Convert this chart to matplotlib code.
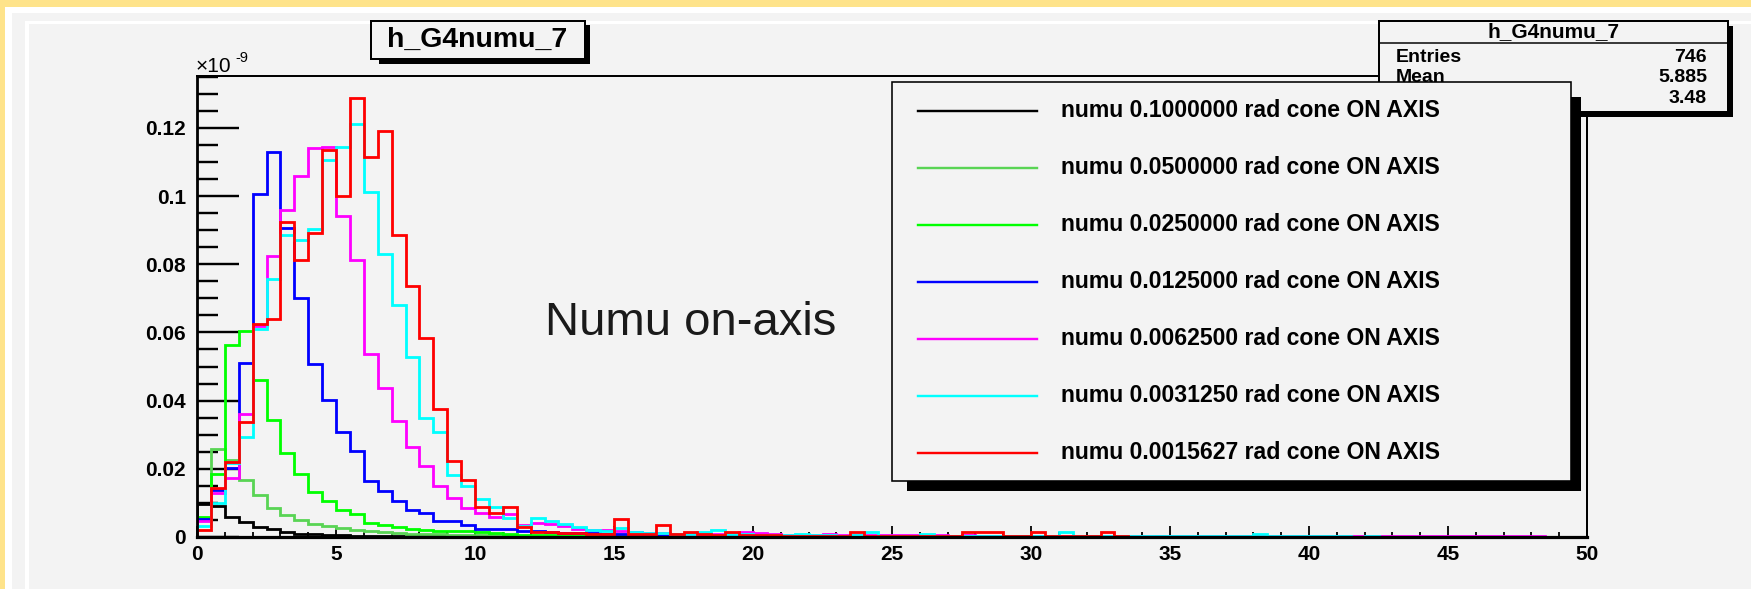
import numpy as np
import matplotlib
matplotlib.use("Agg")
import matplotlib.pyplot as plt
from matplotlib.patches import Rectangle
from matplotlib.lines import Line2D

# ---------------------------------------------------------------- data
# neutrino energy binning: 100 bins of 0.5 from 0 to 50
bin_edges = np.arange(0, 50.5, 0.5)

# flux per bin, in units of 1e-9
flux_cone_0100000 = [
    0.0096, 0.0090, 0.0059, 0.0044, 0.0030, 0.0022, 0.0014, 0.0010, 0.0008, 0.0006,
    0.0005, 0.0004, 0.0004, 0.0003, 0.0003, 0.0002, 0.0002, 0.0002, 0.0001, 0.0001,
    0.0001, 0.0001, 0.0001, 0.0001, 0.0001, 0, 0, 0, 0, 0,
    0, 0, 0, 0, 0, 0, 0, 0, 0, 0,
    0, 0, 0, 0, 0, 0, 0, 0, 0, 0,
    0, 0, 0, 0, 0, 0, 0, 0, 0, 0,
    0, 0, 0, 0, 0, 0, 0, 0, 0, 0,
    0, 0, 0, 0, 0, 0, 0, 0, 0, 0,
    0, 0, 0, 0, 0, 0, 0, 0, 0, 0,
    0, 0, 0, 0, 0, 0, 0, 0, 0, 0,
]
flux_cone_0050000 = [
    0.0055, 0.0259, 0.0226, 0.0166, 0.0124, 0.0086, 0.0064, 0.0049, 0.0037, 0.0031,
    0.0025, 0.0020, 0.0018, 0.0014, 0.0012, 0.0010, 0.0009, 0.0008, 0.0007, 0.0006,
    0.0006, 0.0005, 0.0005, 0.0004, 0.0004, 0.0003, 0.0003, 0.0003, 0.0002, 0.0002,
    0.0002, 0.0002, 0.0001, 0.0001, 0.0001, 0.0001, 0.0001, 0.0001, 0.0001, 0.0001,
    0, 0, 0, 0, 0, 0, 0, 0, 0, 0,
    0, 0, 0, 0, 0, 0, 0, 0, 0, 0,
    0, 0, 0, 0, 0, 0, 0, 0, 0, 0,
    0, 0, 0, 0, 0, 0, 0, 0, 0, 0,
    0, 0, 0, 0, 0, 0, 0, 0, 0, 0,
    0, 0, 0, 0, 0, 0, 0, 0, 0, 0,
]
flux_cone_0025000 = [
    0.0059, 0.0184, 0.0562, 0.0604, 0.0461, 0.0342, 0.0246, 0.0186, 0.0132, 0.0106,
    0.0080, 0.0068, 0.0041, 0.0034, 0.0029, 0.0024, 0.0020, 0.0018, 0.0018, 0.0017,
    0.0016, 0.0011, 0.0010, 0.0006, 0.0005, 0.0005, 0.0005, 0.0004, 0.0004, 0.0004,
    0.0003, 0.0003, 0.0003, 0.0003, 0.0002, 0.0002, 0.0002, 0.0002, 0.0002, 0.0002,
    0.0001, 0.0001, 0.0001, 0.0001, 0.0001, 0.0001, 0.0001, 0.0001, 0.0001, 0.0001,
    0, 0, 0, 0, 0, 0, 0, 0, 0, 0,
    0, 0, 0, 0, 0, 0, 0, 0, 0, 0,
    0, 0, 0, 0, 0, 0, 0, 0, 0, 0,
    0, 0, 0, 0, 0, 0, 0, 0, 0, 0,
    0, 0, 0, 0, 0, 0, 0, 0, 0, 0,
]
flux_cone_0012500 = [
    0.0054, 0.0137, 0.0201, 0.0511, 0.1006, 0.1128, 0.0905, 0.0700, 0.0506, 0.0401,
    0.0308, 0.0251, 0.0163, 0.0134, 0.0105, 0.0080, 0.0069, 0.0046, 0.0046, 0.0034,
    0.0024, 0.0024, 0.0024, 0.0017, 0.0017, 0.0016, 0.0013, 0.0012, 0.0012, 0.0010,
    0.0009, 0.0009, 0.0008, 0.0007, 0.0006, 0.0006, 0.0006, 0.0005, 0.0005, 0.0004,
    0.0004, 0.0004, 0.0003, 0.0004, 0.0003, 0.0003, 0.0003, 0.0003, 0.0003, 0.0002,
    0.0003, 0.0002, 0.0002, 0.0002, 0.0002, 0.0002, 0.0003, 0.0002, 0.0002, 0.0002,
    0.0002, 0.0002, 0.0002, 0.0001, 0.0002, 0.0001, 0.0002, 0.0001, 0.0001, 0.0002,
    0.0001, 0.0001, 0.0001, 0.0001, 0.0001, 0.0001, 0.0001, 0.0001, 0.0001, 0.0001,
    0.0001, 0.0001, 0.0001, 0.0001, 0.0001, 0.0001, 0.0001, 0.0001, 0.0001, 0.0001,
    0.0001, 0.0001, 0.0001, 0.0001, 0.0001, 0.0001, 0.0001, 0.0001, 0.0001, 0.0001,
]
flux_cone_0006250 = [
    0.0047, 0.0130, 0.0172, 0.0360, 0.0618, 0.0825, 0.0958, 0.1059, 0.1140, 0.1145,
    0.0940, 0.0813, 0.0536, 0.0438, 0.0339, 0.0264, 0.0209, 0.0150, 0.0113, 0.0085,
    0.0069, 0.0058, 0.0068, 0.0036, 0.0041, 0.0039, 0.0031, 0.0024, 0.0021, 0.0020,
    0.0018, 0.0015, 0.0012, 0.0012, 0.0010, 0.0010, 0.0009, 0.0009, 0.0012, 0.0015,
    0.0013, 0.0008, 0.0007, 0.0007, 0.0006, 0.0008, 0.0006, 0.0005, 0.0005, 0.0006,
    0.0005, 0.0005, 0.0004, 0.0005, 0.0004, 0.0005, 0.0004, 0.0004, 0.0003, 0.0004,
    0.0004, 0.0003, 0.0003, 0.0004, 0.0003, 0.0003, 0.0003, 0.0003, 0.0003, 0.0003,
    0.0003, 0.0002, 0.0003, 0.0002, 0.0002, 0.0003, 0.0002, 0.0002, 0.0003, 0.0002,
    0.0002, 0.0002, 0.0002, 0.0002, 0.0002, 0.0002, 0.0002, 0.0002, 0.0002, 0.0002,
    0.0002, 0.0002, 0.0002, 0.0002, 0.0002, 0.0002, 0.0002, 0.0001, 0.0001, 0.0001,
]
flux_cone_0003125 = [
    0.0033, 0.0099, 0.0216, 0.0292, 0.0611, 0.0758, 0.0886, 0.0871, 0.0902, 0.1107,
    0.1144, 0.1211, 0.1013, 0.0831, 0.0680, 0.0529, 0.0350, 0.0308, 0.0181, 0.0149,
    0.0112, 0.0088, 0.0057, 0.0031, 0.0057, 0.0047, 0.0037, 0.0029, 0.0020, 0.0019,
    0.0025, 0.0015, 0.0013, 0.0011, 0.0010, 0.0008, 0.0015, 0.0020, 0.0009, 0.0008,
    0.0007, 0.0006, 0.0006, 0.0010, 0.0005, 0.0005, 0.0004, 0.0005, 0.0015, 0.0004,
    0.0004, 0.0004, 0.0010, 0.0004, 0.0003, 0.0004, 0.0003, 0.0003, 0.0004, 0.0003,
    0.0003, 0.0003, 0.0015, 0.0003, 0.0003, 0.0003, 0.0002, 0.0003, 0.0002, 0.0002,
    0.0002, 0.0002, 0.0002, 0.0002, 0.0002, 0.0002, 0.0008, 0.0002, 0.0002, 0.0002,
    0.0002, 0.0002, 0.0002, 0.0001, 0.0002, 0.0001, 0.0001, 0.0001, 0.0001, 0.0001,
    0.0001, 0.0001, 0.0001, 0.0001, 0.0001, 0.0001, 0.0001, 0.0001, 0.0001, 0.0001,
]
flux_cone_0001563 = [
    0.0020, 0.0145, 0.0219, 0.0336, 0.0624, 0.0640, 0.0925, 0.0813, 0.0891, 0.1135,
    0.1000, 0.1286, 0.1115, 0.1190, 0.0887, 0.0737, 0.0585, 0.0376, 0.0222, 0.0167,
    0.0088, 0.0070, 0.0088, 0.0029, 0.0015, 0.0015, 0.0012, 0.0012, 0.0010, 0.0010,
    0.0054, 0.0010, 0.0008, 0.0034, 0.0008, 0.0015, 0.0008, 0.0006, 0.0015, 0.0006,
    0.0005, 0.0005, 0.0004, 0.0004, 0.0004, 0.0004, 0.0003, 0.0015, 0.0003, 0.0003,
    0.0003, 0.0003, 0.0003, 0.0003, 0.0002, 0.0015, 0.0015, 0.0015, 0.0002, 0.0002,
    0.0015, 0.0002, 0.0002, 0.0002, 0.0002, 0.0015, 0.0002, 0.0001, 0.0001, 0.0001,
    0, 0, 0, 0, 0, 0, 0, 0, 0, 0,
    0, 0, 0, 0, 0, 0, 0, 0, 0, 0,
    0, 0, 0, 0, 0, 0, 0, 0, 0, 0,
]

series_labels = [
    "numu 0.1000000 rad cone ON AXIS",
    "numu 0.0500000 rad cone ON AXIS",
    "numu 0.0250000 rad cone ON AXIS",
    "numu 0.0125000 rad cone ON AXIS",
    "numu 0.0062500 rad cone ON AXIS",
    "numu 0.0031250 rad cone ON AXIS",
    "numu 0.0015627 rad cone ON AXIS",
]
series_values = [
    flux_cone_0100000, flux_cone_0050000, flux_cone_0025000, flux_cone_0012500,
    flux_cone_0006250, flux_cone_0003125, flux_cone_0001563,
]
series_colors = ["#000000", "#59d454", "#00ff00", "#0000ff",
                 "#ff00ff", "#00ffff", "#ff0000"]

hist_name = "h_G4numu_7"
stats_rows = [("Entries", "746"), ("Mean", "5.885"), ("RMS", "3.48")]
x_ticks = [0, 5, 10, 15, 20, 25, 30, 35, 40, 45, 50]
y_ticks = [0, 0.02, 0.04, 0.06, 0.08, 0.10, 0.12]
y_tick_labels = ["0", "0.02", "0.04", "0.06", "0.08", "0.1", "0.12"]
annotation = "Numu on-axis"

# ---------------------------------------------------------------- canvas
W, H = 1751, 589
PAD_GREY = "#f3f3f3"
BOLD = "Liberation Sans"

fig = plt.figure(figsize=(W / 100, H / 100), dpi=100, facecolor=PAD_GREY)


def fx(x):
    return x / W


def fy(y):
    return 1 - y / H


def rect(x0, y0, x1, y1, z, **kw):
    r = Rectangle((fx(x0), fy(y1)), fx(x1) - fx(x0), fy(y0) - fy(y1),
                  transform=fig.transFigure, zorder=z, **kw)
    fig.add_artist(r)
    return r


def px2pt(p):
    return p * 0.72


# outer canvas border: golden band, white band, then the pad with a highlight edge
rect(0, 0, W, 7.5, 0.1, facecolor="#fee38a", edgecolor="none")
rect(0, 0, 5, H, 0.1, facecolor="#fee38a", edgecolor="none")
rect(5, 7.5, W, 13, 0.1, facecolor="white", edgecolor="none")
rect(5, 7.5, 12, H, 0.1, facecolor="white", edgecolor="none")
rect(25, 20.5, W, 24, 0.1, facecolor="white", edgecolor="none")
rect(25, 20.5, 29, H, 0.1, facecolor="white", edgecolor="none")

# ---------------------------------------------------------------- frame
AX_L, AX_R, AX_T, AX_B = 197, 1587, 76, 537
ax = fig.add_axes([fx(AX_L), fy(AX_B), fx(AX_R) - fx(AX_L), fy(AX_T) - fy(AX_B)],
                  zorder=1)
ax.set_facecolor(PAD_GREY)

for vals, col in zip(series_values, series_colors):
    ax.stairs(vals, bin_edges, color=col, linewidth=px2pt(2.8), zorder=2)

ax.set_xlim(0, 50)
ax.set_ylim(0, (AX_B - AX_T) / 3410)

ax.set_xticks(x_ticks)
ax.set_xticklabels([str(t) for t in x_ticks])
ax.set_xticks(np.arange(0, 51, 1), minor=True)
ax.set_yticks(y_ticks)
ax.set_yticklabels(y_tick_labels)
ax.set_yticks(np.arange(0, 0.1351, 0.005), minor=True)

ax.tick_params(axis="y", which="major", direction="in", length=px2pt(42),
               width=px2pt(2.4), pad=px2pt(11))
ax.tick_params(axis="y", which="minor", direction="in", length=px2pt(21),
               width=px2pt(2.4))
ax.tick_params(axis="x", which="major", direction="in", length=px2pt(11),
               width=px2pt(1.8), pad=px2pt(8))
ax.tick_params(axis="x", which="minor", direction="in", length=px2pt(5.5),
               width=px2pt(1.8))
for lab in ax.get_xticklabels() + ax.get_yticklabels():
    lab.set_fontfamily(BOLD)
    lab.set_fontweight("bold")
    lab.set_fontsize(15)

ax.spines["left"].set_linewidth(px2pt(2.8))
ax.spines["bottom"].set_linewidth(px2pt(3.2))
ax.spines["top"].set_linewidth(px2pt(2))
ax.spines["right"].set_linewidth(px2pt(2))

# exponent of the y axis
fig.text(fx(196), fy(72), "\u00d710", fontfamily=BOLD, fontsize=15,
         ha="left", va="baseline", zorder=3)
fig.text(fx(235), fy(62), "-9", fontfamily=BOLD, fontsize=10.5,
         ha="left", va="baseline", zorder=3)

# ---------------------------------------------------------------- title box
rect(379, 25, 590, 63.5, 4, facecolor="black", edgecolor="none")
rect(370.5, 20.7, 584.8, 59.3, 4.1, facecolor=PAD_GREY, edgecolor="black",
     linewidth=px2pt(2))
fig.text(fx(477.6), fy(40), hist_name, fontfamily=BOLD, fontweight="bold",
         fontsize=20.5, ha="center", va="center", zorder=4.2)

# ---------------------------------------------------------------- stats box
rect(1384, 26, 1733, 117, 5, facecolor="black", edgecolor="none")
rect(1379, 21, 1728, 112, 5.1, facecolor=PAD_GREY, edgecolor="black",
     linewidth=px2pt(2))
fig.add_artist(Line2D([fx(1379), fx(1728)], [fy(43), fy(43)],
                      transform=fig.transFigure, color="black",
                      linewidth=px2pt(1.5), zorder=5.2))
fig.text(fx(1553.5), fy(32), hist_name, fontfamily=BOLD, fontweight="bold",
         fontsize=15, ha="center", va="center", zorder=5.2)
for (name, val), yc in zip(stats_rows, [57.5, 78, 98.5]):
    fig.text(fx(1396), fy(yc), name, fontfamily=BOLD, fontweight="bold",
             fontsize=14, ha="left", va="center", zorder=5.2)
    fig.text(fx(1707), fy(yc), val, fontfamily=BOLD, fontweight="bold",
             fontsize=14, ha="right", va="center", zorder=5.2)

# ---------------------------------------------------------------- legend
rect(907, 97, 1581, 491, 6, facecolor="black", edgecolor="none")
rect(892, 82, 1571, 481, 6.1, facecolor=PAD_GREY, edgecolor="black",
     linewidth=px2pt(1.6))
for i, (lab, col) in enumerate(zip(series_labels, series_colors)):
    yc = 110.7 + 57.0 * i
    fig.add_artist(Line2D([fx(917.6), fx(1036.6)], [fy(yc), fy(yc)],
                          transform=fig.transFigure, color=col,
                          linewidth=px2pt(2.4), zorder=6.2))
    fig.text(fx(1061), fy(yc), lab, fontfamily=BOLD, fontweight="bold",
             fontsize=16.6, ha="left", va="center", zorder=6.2)

# ---------------------------------------------------------------- annotation
fig.text(fx(545), fy(335), annotation, fontfamily="Liberation Sans",
         fontsize=34, color="#1a1a1a", ha="left", va="baseline", zorder=3)

fig.savefig("out.png", dpi=100, facecolor=fig.get_facecolor())
